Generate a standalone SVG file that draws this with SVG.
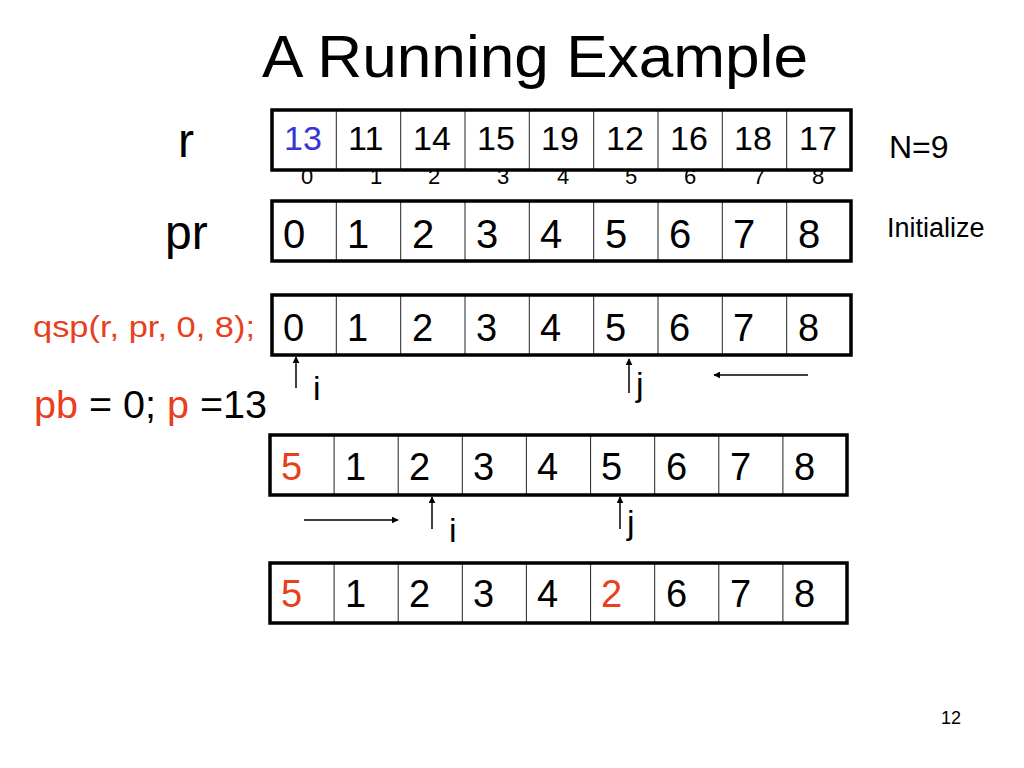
<svg xmlns="http://www.w3.org/2000/svg" width="1024" height="768" viewBox="0 0 1024 768">
<style>
text{font-family:"Liberation Sans",Arial,Helvetica,sans-serif;fill:#000}
.red{fill:#e8401c}
.blue{fill:#3535d8}
.outer{fill:none;stroke:#000;stroke-width:3.5}
.cell{fill:#fff;stroke:#222;stroke-width:1}
.v{font-size:38px}
.rv{font-size:34px}
.idx{font-size:22px;text-anchor:middle}
.arr{stroke:#000;stroke-width:1.5;fill:none;marker-end:url(#ah)}
.lbl{font-size:34px}
</style>
<defs>
<marker id="ah" viewBox="0 0 10 10" refX="9" refY="5" markerWidth="7" markerHeight="7" orient="auto" markerUnits="userSpaceOnUse">
<path d="M0,0 L10,5 L0,10 z" fill="#000"/>
</marker>
</defs>
<rect width="1024" height="768" fill="#fff"/>

<text x="262" y="77" font-size="60" textLength="546" lengthAdjust="spacingAndGlyphs">A Running Example</text>

<g id="label-r"><text x="178" y="157" font-size="48">r</text></g>
<g id="label-pr"><text x="165" y="249" font-size="48">pr</text></g>
<g id="label-N"><text x="889" y="158" font-size="32">N=9</text></g>
<g id="label-init"><text x="887" y="237" font-size="27">Initialize</text></g>
<g id="label-qsp"><text class="red" x="33" y="337" font-size="30" textLength="222" lengthAdjust="spacingAndGlyphs">qsp(r, pr, 0, 8);</text></g>
<g id="label-pb"><text x="34" y="418" font-size="38" textLength="233" lengthAdjust="spacingAndGlyphs"><tspan class="red">pb</tspan> = 0; <tspan class="red">p</tspan> =13</text></g>

<g id="array-r">
<rect class="cell" x="272" y="110" width="579" height="60"/>
<path class="cell" d="M336.3,110V170M400.7,110V170M465,110V170M529.3,110V170M593.7,110V170M658,110V170M722.3,110V170M786.7,110V170"/>
<rect class="outer" x="272" y="110" width="579" height="60"/>
<text class="rv blue" x="284" y="150">13</text>
<text class="rv" x="348" y="150">11</text>
<text class="rv" x="413" y="150">14</text>
<text class="rv" x="477" y="150">15</text>
<text class="rv" x="541" y="150">19</text>
<text class="rv" x="606" y="150">12</text>
<text class="rv" x="670" y="150">16</text>
<text class="rv" x="734" y="150">18</text>
<text class="rv" x="799" y="150">17</text>
<text class="idx" x="307" y="184">0</text>
<text class="idx" x="376" y="184">1</text>
<text class="idx" x="434" y="184">2</text>
<text class="idx" x="503" y="184">3</text>
<text class="idx" x="563" y="184">4</text>
<text class="idx" x="631" y="184">5</text>
<text class="idx" x="690" y="184">6</text>
<text class="idx" x="759" y="184">7</text>
<text class="idx" x="818" y="184">8</text>
</g>

<g id="array-pr">
<rect class="cell" x="272" y="201" width="579" height="60"/>
<path class="cell" d="M336.3,201V261M400.7,201V261M465,201V261M529.3,201V261M593.7,201V261M658,201V261M722.3,201V261M786.7,201V261"/>
<rect class="outer" x="272" y="201" width="579" height="60"/>
<g font-size="40">
<text x="283" y="248">0</text><text x="347" y="248">1</text><text x="412" y="248">2</text><text x="476" y="248">3</text><text x="540" y="248">4</text><text x="605" y="248">5</text><text x="669" y="248">6</text><text x="733" y="248">7</text><text x="798" y="248">8</text>
</g>
</g>

<g id="array-qsp">
<rect class="cell" x="272" y="295" width="579" height="60"/>
<path class="cell" d="M336.3,295V355M400.7,295V355M465,295V355M529.3,295V355M593.7,295V355M658,295V355M722.3,295V355M786.7,295V355"/>
<rect class="outer" x="272" y="295" width="579" height="60"/>
<text class="v" x="283" y="341">0</text><text class="v" x="347" y="341">1</text><text class="v" x="412" y="341">2</text><text class="v" x="476" y="341">3</text><text class="v" x="540" y="341">4</text><text class="v" x="605" y="341">5</text><text class="v" x="669" y="341">6</text><text class="v" x="733" y="341">7</text><text class="v" x="798" y="341">8</text>
</g>

<g id="array-4">
<rect class="cell" x="270" y="435" width="577" height="60"/>
<path class="cell" d="M334.1,435V495M398.2,435V495M462.3,435V495M526.4,435V495M590.6,435V495M654.7,435V495M718.8,435V495M782.9,435V495"/>
<rect class="outer" x="270" y="435" width="577" height="60"/>
<text class="v red" x="281" y="480">5</text><text class="v" x="345" y="480">1</text><text class="v" x="409" y="480">2</text><text class="v" x="473" y="480">3</text><text class="v" x="537" y="480">4</text><text class="v" x="601" y="480">5</text><text class="v" x="666" y="480">6</text><text class="v" x="730" y="480">7</text><text class="v" x="794" y="480">8</text>
</g>

<g id="array-5">
<rect class="cell" x="270" y="563" width="577" height="60"/>
<path class="cell" d="M334.1,563V623M398.2,563V623M462.3,563V623M526.4,563V623M590.6,563V623M654.7,563V623M718.8,563V623M782.9,563V623"/>
<rect class="outer" x="270" y="563" width="577" height="60"/>
<text class="v red" x="281" y="607">5</text><text class="v" x="345" y="607">1</text><text class="v" x="409" y="607">2</text><text class="v" x="473" y="607">3</text><text class="v" x="537" y="607">4</text><text class="v red" x="601" y="607">2</text><text class="v" x="666" y="607">6</text><text class="v" x="730" y="607">7</text><text class="v" x="794" y="607">8</text>
</g>

<g id="connectors">
<line class="arr" x1="296" y1="388" x2="296" y2="357"/>
<line class="arr" x1="629" y1="393" x2="629" y2="359"/>
<line class="arr" x1="808" y1="375" x2="714" y2="375"/>
<line class="arr" x1="432" y1="529" x2="432" y2="497"/>
<line class="arr" x1="620" y1="529" x2="620" y2="497"/>
<line class="arr" x1="304" y1="520" x2="398" y2="520"/>
</g>

<g id="pointer-labels">
<text class="lbl" x="313" y="400">i</text>
<text class="lbl" x="636" y="396">j</text>
<text class="lbl" x="449" y="542">i</text>
<text class="lbl" x="627" y="534">j</text>
</g>

<text x="941" y="724" font-size="18">12</text>
</svg>
